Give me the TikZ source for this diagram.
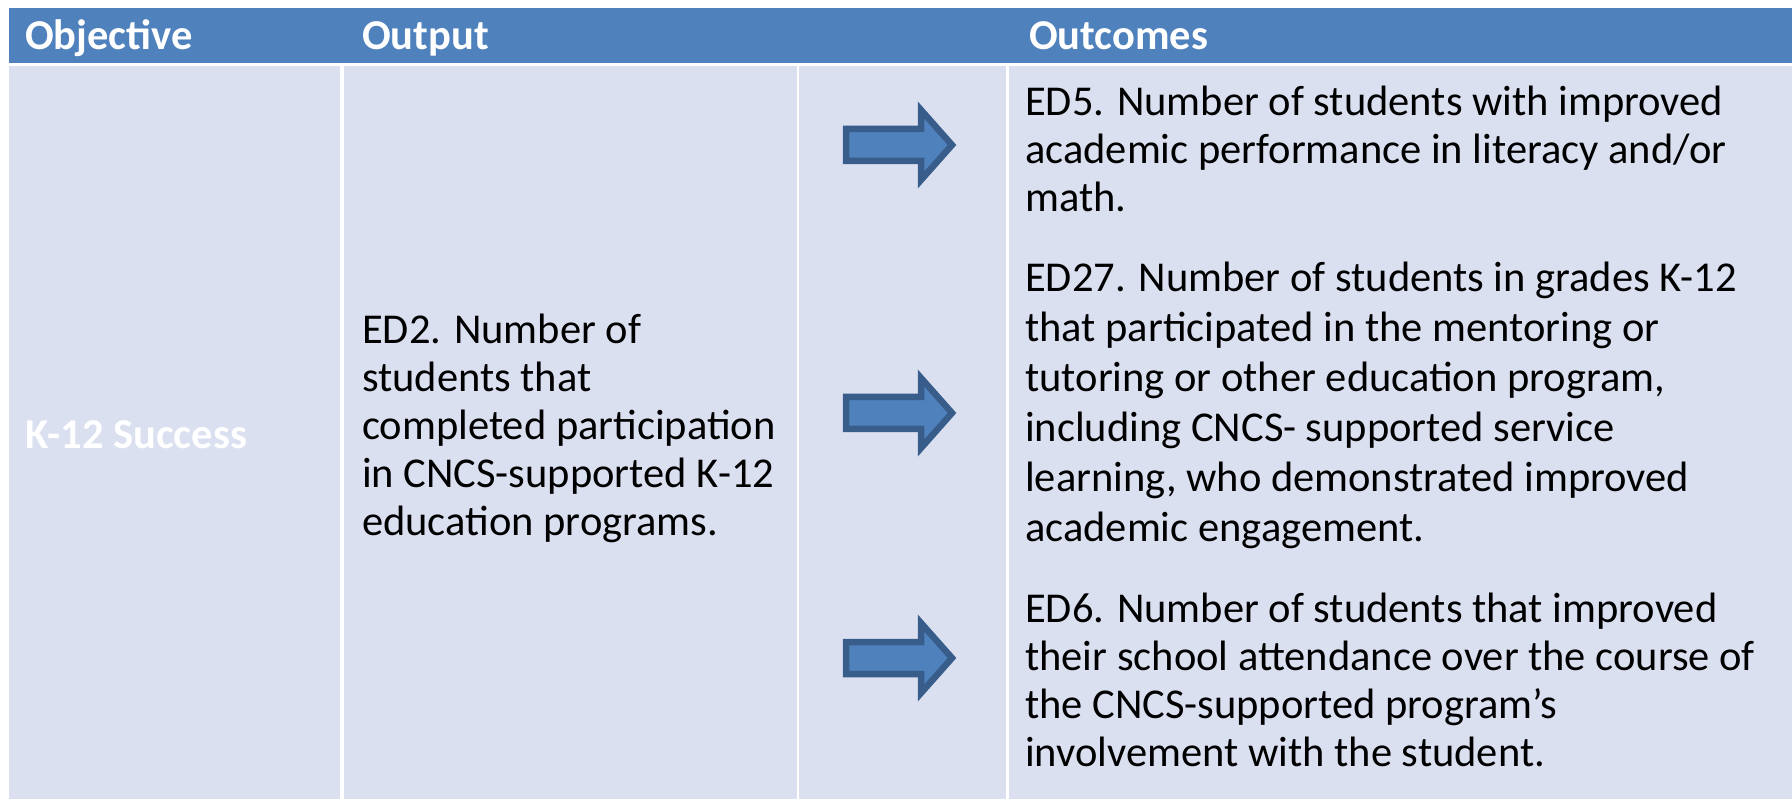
\documentclass[tikz,border=0pt]{standalone}
\usepackage{fontspec}
\setmainfont{Carlito}
\definecolor{hdr}{HTML}{4F81BD}
\definecolor{cellbg}{HTML}{DBE0F1}
\definecolor{arrline}{HTML}{385D8A}
\definecolor{arrfill}{HTML}{4F81BD}
\tikzset{
  hdrtext/.style={anchor=base west, inner sep=0pt, text=white, font=\fontsize{42.5}{48}\selectfont\bfseries},
  bodytext/.style={anchor=base west, inner sep=0pt, text=black, align=left, font=\fontsize{42.5}{48}\selectfont},
  widetext/.style={bodytext, font=\fontsize{42.5}{50}\selectfont},
  bigarrow/.style={draw=arrline, fill=arrfill, line width=6.5pt, line join=miter}
}
\begin{document}
\begin{tikzpicture}[x=1pt,y=-1pt]
\useasboundingbox (0,0) rectangle (1792,799);
\fill[white] (0,0) rectangle (1792,799);
% header
\fill[hdr] (9,8) rectangle (1792,63);
% body cells
\fill[cellbg] (9,66) rectangle (340,799);
\fill[cellbg] (344,66) rectangle (797,799);
\fill[cellbg] (799,66) rectangle (1006,799);
\fill[cellbg] (1009,66) rectangle (1792,799);
% header texts
\node[hdrtext] (hobj) at (25,50) {Objective};
\node[hdrtext] (hout) at (362,50) {Output};
\node[hdrtext] (hres) at (1029,50) {Outcomes};
% objective
\node[hdrtext] (obj) at (25,449) {K-12 Success};
% output (anchor = baseline of last line)
\node[bodytext] (ed2) at (362,535) {ED2. Number of\\students that\\completed participation\\in CNCS-supported K-12\\education programs.};
% outcomes
\node[bodytext] (ed5) at (1025,212) {ED5. Number of students with improved\\academic performance in literacy and/or\\math.};
\node[widetext] (ed27) at (1025,541) {ED27. Number of students in grades K-12\\that participated in the mentoring or\\tutoring or other education program,\\including CNCS- supported service\\learning, who demonstrated improved\\academic engagement.};
\node[bodytext] (ed6) at (1025,766) {ED6. Number of students that improved\\their school attendance over the course of\\the CNCS-supported program's\\involvement with the student.};
% arrows
\foreach \c/\n in {145/a1,413/a2,658/a3}{
  \draw[bigarrow] (846,\c-16) -- (921,\c-16) -- (921,\c-35) -- (952,\c) -- (921,\c+35) -- (921,\c+16) -- (846,\c+16) -- cycle;
}
\end{tikzpicture}
\end{document}
